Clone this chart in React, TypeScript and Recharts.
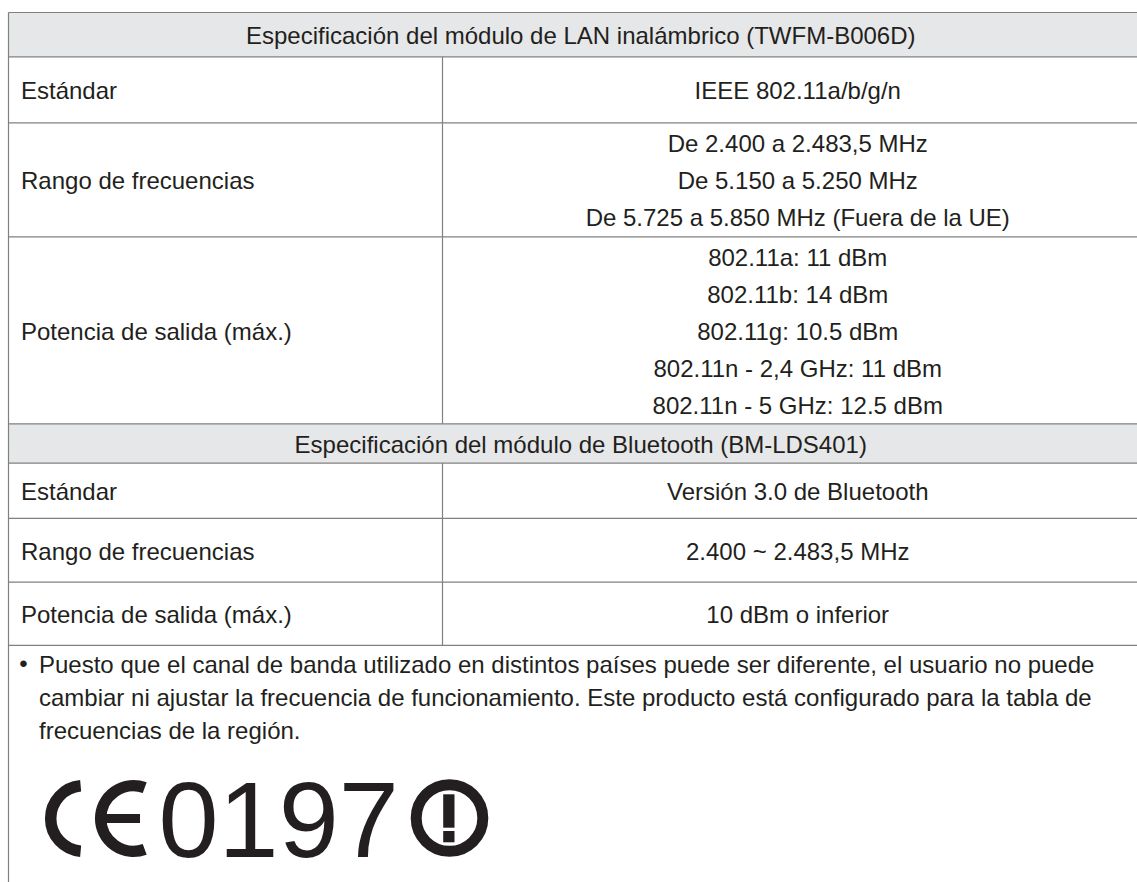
import React from 'react'
import { Surface, Layer, Rectangle, Text } from 'recharts'

const wifiTitle = 'Especificación del módulo de LAN inalámbrico (TWFM-B006D)'
const wifiLabels = ['Estándar', 'Rango de frecuencias', 'Potencia de salida (máx.)']
const wifiValues = [
  ['IEEE 802.11a/b/g/n'],
  ['De 2.400 a 2.483,5 MHz', 'De 5.150 a 5.250 MHz', 'De 5.725 a 5.850 MHz (Fuera de la UE)'],
  [
    '802.11a: 11 dBm',
    '802.11b: 14 dBm',
    '802.11g: 10.5 dBm',
    '802.11n - 2,4 GHz: 11 dBm',
    '802.11n - 5 GHz: 12.5 dBm',
  ],
]

const btTitle = 'Especificación del módulo de Bluetooth (BM-LDS401)'
const btLabels = ['Estándar', 'Rango de frecuencias', 'Potencia de salida (máx.)']
const btValues = [['Versión 3.0 de Bluetooth'], ['2.400 ~ 2.483,5 MHz'], ['10 dBm o inferior']]

const noteLines = [
  'Puesto que el canal de banda utilizado en distintos países puede ser diferente, el usuario no puede',
  'cambiar ni ajustar la frecuencia de funcionamiento. Este producto está configurado para la tabla de',
  'frecuencias de la región.',
]
const markNumber = '0197'

// layout
const W = 1137
const H = 882
const LEFT = 8.5
const RIGHT = 1153
const SPLIT = 442.5
const TOP = 12.5
const TITLE_H = [44.3, 39.3]
const ROW_H = [
  [66, 114, 187],
  [55.3, 63.7, 63.3],
]
const LINE_H = 37
const NOTE_LINE_H = 33
const FONT = '"Liberation Sans", Arial, Helvetica, sans-serif'
const INK = '#231f20'
const RULE = '#808080'
const SHADE = '#e6e7e8'

const sections = [
  { title: wifiTitle, labels: wifiLabels, values: wifiValues },
  { title: btTitle, labels: btLabels, values: btValues },
]

const rad = (d: number) => (d * Math.PI) / 180

function arcPath(cx: number, cy: number, r: number, a0: number, a1: number) {
  const large = a1 - a0 > 180 ? 1 : 0
  const x0 = cx + r * Math.cos(rad(a0))
  const y0 = cy - r * Math.sin(rad(a0))
  const x1 = cx + r * Math.cos(rad(a1))
  const y1 = cy - r * Math.sin(rad(a1))
  return `M${x0},${y0} A${r},${r} 0 ${large} 0 ${x1},${y1}`
}

function Cell({ x, y, children, anchor = 'start' }: any) {
  return (
    <Text
      x={x}
      y={y}
      textAnchor={anchor}
      verticalAnchor="middle"
      fontSize={24}
      fontFamily={FONT}
      fill={INK}
    >
      {children}
    </Text>
  )
}

function SpecTable() {
  const rules: number[] = [TOP]
  const splits: [number, number][] = []
  const nodes: React.ReactNode[] = []
  let y = TOP

  sections.forEach((sec, si) => {
    const th = TITLE_H[si]
    nodes.push(
      <Rectangle key={`shade-${si}`} x={LEFT} y={y} width={RIGHT - LEFT} height={th} fill={SHADE} />,
      <Cell key={`title-${si}`} x={(LEFT + RIGHT) / 2} y={y + th / 2 + 1} anchor="middle">
        {sec.title}
      </Cell>
    )
    y += th
    rules.push(y)

    sec.labels.forEach((label, ri) => {
      const h = ROW_H[si][ri]
      const mid = y + h / 2 + 1
      const lines = sec.values[ri]
      nodes.push(
        <Cell key={`lab-${si}-${ri}`} x={LEFT + 12.5} y={mid}>
          {label}
        </Cell>
      )
      lines.forEach((v, li) => {
        nodes.push(
          <Cell
            key={`val-${si}-${ri}-${li}`}
            x={(SPLIT + RIGHT) / 2}
            y={mid + (li - (lines.length - 1) / 2) * LINE_H}
            anchor="middle"
          >
            {v}
          </Cell>
        )
      })
      splits.push([y, y + h])
      y += h
      rules.push(y)
    })
  })

  const noteTop = y

  return (
    <Surface width={W} height={H}>
      <rect x={0} y={0} width={W} height={H} fill="#fff" />
      <Layer>{nodes.filter((n: any) => n.type === Rectangle)}</Layer>
      <Layer>
        {rules.map((ry, i) => (
          <line key={`h-${i}`} x1={LEFT} x2={RIGHT} y1={ry} y2={ry} stroke={RULE} strokeWidth={1.2} />
        ))}
        {splits.map(([a, b], i) => (
          <line key={`v-${i}`} x1={SPLIT} x2={SPLIT} y1={a} y2={b} stroke={RULE} strokeWidth={1.2} />
        ))}
        <line x1={LEFT} x2={LEFT} y1={TOP} y2={H} stroke={RULE} strokeWidth={1.2} />
      </Layer>
      <Layer>{nodes.filter((n: any) => n.type !== Rectangle)}</Layer>
      <Layer>
        <Cell x={23.5} y={noteTop + 18.5} anchor="middle">
          •
        </Cell>
        {noteLines.map((t, i) => (
          <Cell key={`note-${i}`} x={39} y={noteTop + 19 + i * NOTE_LINE_H}>
            {t}
          </Cell>
        ))}
      </Layer>
      <Layer>
        {/* CE mark */}
        <path d={arcPath(83.5, 818.5, 32.8, 95, 265)} fill="none" stroke={INK} strokeWidth={11.5} />
        <path d={arcPath(133.5, 818.5, 32.8, 70, 290)} fill="none" stroke={INK} strokeWidth={11.5} />
        <Rectangle x={100} y={814} width={40} height={9} fill={INK} />
        <text x={158.5} y={857} fontSize={108} fontFamily={FONT} fill={INK}>
          {markNumber}
        </text>
        {/* alert symbol */}
        <circle cx={449.5} cy={818} r={33.3} fill="none" stroke={INK} strokeWidth={11} />
        <Rectangle x={443.2} y={794.3} width={11.3} height={33.4} fill={INK} />
        <Rectangle x={443.2} y={831} width={11.3} height={11.3} fill={INK} />
      </Layer>
    </Surface>
  )
}

export default function App() {
  return (
    <div style={{ position: 'absolute', left: 0, top: 0, width: W, height: H, background: '#fff' }}>
      <SpecTable />
    </div>
  )
}
